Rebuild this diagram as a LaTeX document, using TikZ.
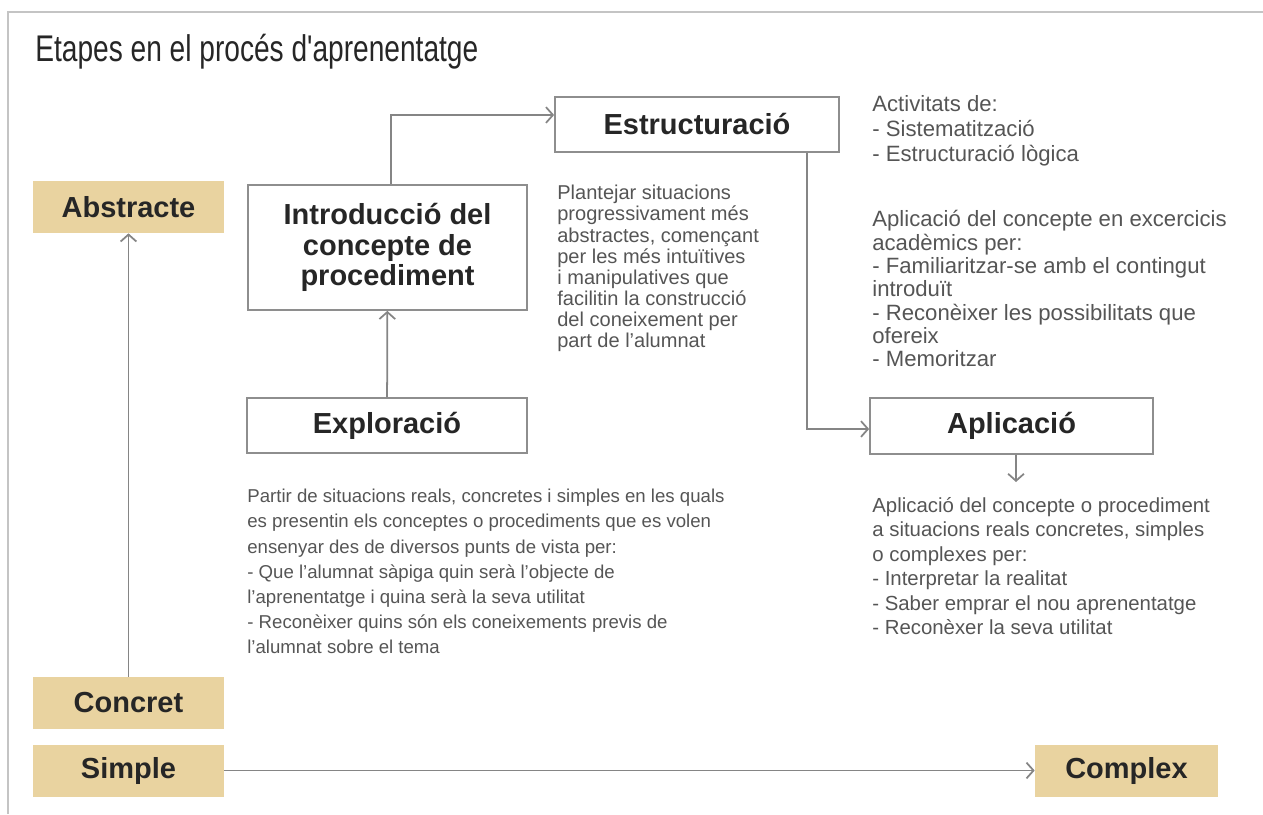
\documentclass[tikz,border=0pt]{standalone}
\usepackage{fontspec}
\setmainfont{Liberation Sans}
\usepackage{tikz}
\usetikzlibrary{arrows.meta}
\definecolor{tanbox}{HTML}{E9D3A0}
\definecolor{boxgray}{HTML}{8E8E8E}
\definecolor{linegray}{HTML}{858585}
\definecolor{framegray}{HTML}{C4C4C4}
\definecolor{darktext}{HTML}{262626}
\definecolor{notegray}{HTML}{555555}

\begin{document}
\begin{tikzpicture}[x=0.02cm,y=-0.02cm,
		stage/.style={draw=boxgray,line width=1pt,fill=white,text=darktext,font=\fontsize{16.5}{17.2}\selectfont\bfseries,align=center,inner sep=0pt},
		axis/.style={fill=tanbox,text=darktext,font=\fontsize{16.5}{19}\selectfont\bfseries,minimum height=1.04cm,inner sep=0pt},
		note/.style={anchor=north west,align=left,inner sep=0pt,text=notegray},
		link/.style={draw=linegray,line width=1pt,-{Straight Barb[length=4pt,width=9pt]}}]
		\useasboundingbox (0,0) rectangle (1263,814);
		\draw[framegray,line width=1pt] (8,814) -- (8,12) -- (1263,12);
		\node[anchor=west,inner sep=0pt,text=darktext,font=\fontsize{16}{19}\selectfont] (title) at (35,52) {\scalebox{1}[1.32]{Etapes en el procés d\textquotesingle aprenentatge}};
		\node[stage,minimum width=5.68cm,minimum height=1.1cm] (estr) at (697,124.5) {Estructuració};
		\node[stage,minimum width=5.58cm,minimum height=2.5cm] (intro) at (387.5,247.5) {Introducció del\\concepte de\\procediment};
		\node[stage,minimum width=5.6cm,minimum height=1.1cm] (explor) at (387,425.5) {Exploració};
		\node[stage,minimum width=5.66cm,minimum height=1.12cm] (aplic) at (1011.5,426) {Aplicació};
		\node[axis,minimum width=3.82cm] (abstr) at (128.5,207) {Abstracte};
		\node[axis,minimum width=3.82cm] (concr) at (128.5,703) {Concret};
		\node[axis,minimum width=3.82cm] (simpl) at (128.5,770.5) {Simple};
		\node[axis,minimum width=3.66cm] (compl) at (1126.5,770.5) {Complex};
		\coordinate (aplicend) at (1016,482);
		\draw[link] (concr) -- (abstr);
		\draw[link] (simpl) -- (compl);
		\draw[link] (explor) -- (intro);
		\draw[link] ([xshift=0.07cm]intro.north) |- ([yshift=0.19cm]estr.west);
		\draw[link] ([xshift=2.2cm]estr.south) |- ([yshift=-0.06cm]aplic.west);
		\draw[link] (aplic.south -| aplicend) -- (aplicend);
		\node[note,font=\fontsize{12.6}{14.2}\selectfont] (actv) at (872,95) {Activitats de:\\- Sistematització\\- Estructuració lògica};
		\node[note,font=\fontsize{12.6}{13.3}\selectfont] (aplictext) at (872,210) {Aplicació del concepte en excercicis\\acadèmics per:\\- Familiaritzar-se amb el contingut\\introduït\\- Reconèixer les possibilitats que\\ofereix\\- Memoritzar};
		\node[note,font=\fontsize{11.4}{12}\selectfont] (plant) at (557,185) {Plantejar situacions\\progressivament més\\abstractes, començant\\per les més intuïtives\\i manipulatives que\\facilitin la construcció\\del coneixement per\\part de l'alumnat};
		\node[note,font=\fontsize{10.6}{14.3}\selectfont] (partir) at (247,489) {Partir de situacions reals, concretes i simples en les quals\\es presentin els conceptes o procediments que es volen\\ensenyar des de diversos punts de vista per:\\- Que l'alumnat sàpiga quin serà l'objecte de\\l'aprenentatge i quina serà la seva utilitat\\- Reconèixer quins són els coneixements previs de\\l'alumnat sobre el tema};
		\node[note,font=\fontsize{11.6}{13.9}\selectfont] (aplicres) at (872,497) {Aplicació del concepte o procediment\\a situacions reals concretes, simples\\o complexes per:\\- Interpretar la realitat\\- Saber emprar el nou aprenentatge\\- Reconèxer la seva utilitat};
	\end{tikzpicture}
\end{document}
